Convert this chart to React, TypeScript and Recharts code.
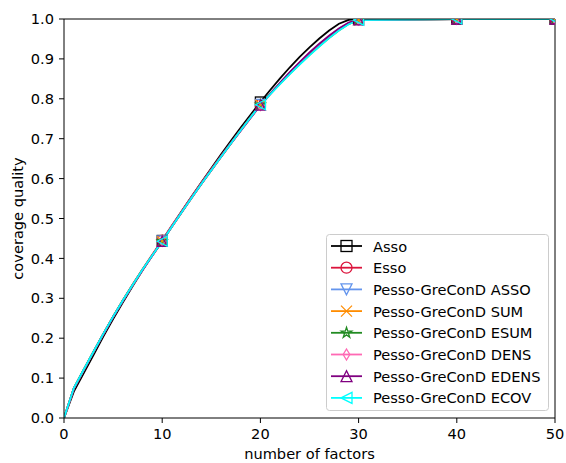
import React from 'react';
import {
  LineChart,
  Line,
  XAxis,
  YAxis,
  ReferenceLine,
  Legend,
} from 'recharts';

// number of factors (x) — the curves are flat at full coverage beyond 30
const factors = [
  0, 1, 2, 3, 4, 5, 6, 7, 8, 9, 10, 11, 12, 13, 14, 15, 16, 17, 18, 19, 20,
  21, 22, 23, 24, 25, 26, 27, 28, 29, 30, 40, 50,
];

const asso = [
  0, 0.066, 0.112, 0.158, 0.204, 0.248, 0.29, 0.331, 0.37, 0.408, 0.445,
  0.482, 0.519, 0.555, 0.591, 0.626, 0.661, 0.695, 0.728, 0.76, 0.792,
  0.822, 0.851, 0.879, 0.905, 0.929, 0.951, 0.971, 0.988, 0.998, 1.0, 1.0, 1.0,
];
const esso = [
  0, 0.073, 0.119, 0.165, 0.21, 0.254, 0.295, 0.335, 0.373, 0.41, 0.446,
  0.483, 0.519, 0.555, 0.59, 0.624, 0.657, 0.69, 0.722, 0.754, 0.786,
  0.813, 0.839, 0.865, 0.889, 0.912, 0.934, 0.955, 0.974, 0.989, 0.998, 1.0, 1.0,
];
const pgAsso = [
  0, 0.074, 0.12, 0.166, 0.211, 0.254, 0.295, 0.334, 0.372, 0.408, 0.444,
  0.481, 0.517, 0.553, 0.588, 0.622, 0.656, 0.689, 0.722, 0.754, 0.786,
  0.813, 0.84, 0.866, 0.89, 0.914, 0.936, 0.957, 0.975, 0.99, 0.998, 1.0, 1.0,
];
const pgSum = [
  0, 0.075, 0.121, 0.166, 0.211, 0.254, 0.295, 0.334, 0.372, 0.408, 0.443,
  0.48, 0.516, 0.552, 0.587, 0.621, 0.655, 0.688, 0.721, 0.753, 0.785,
  0.812, 0.838, 0.863, 0.887, 0.91, 0.932, 0.953, 0.972, 0.988, 0.997, 1.0, 1.0,
];
const pgEsum = [
  0, 0.075, 0.121, 0.166, 0.211, 0.254, 0.295, 0.334, 0.372, 0.408, 0.443,
  0.48, 0.516, 0.552, 0.587, 0.621, 0.655, 0.688, 0.721, 0.753, 0.785,
  0.812, 0.838, 0.863, 0.887, 0.91, 0.932, 0.953, 0.972, 0.988, 0.997, 1.0, 1.0,
];
const pgDens = [
  0, 0.074, 0.12, 0.165, 0.21, 0.253, 0.294, 0.333, 0.371, 0.407, 0.443,
  0.48, 0.516, 0.552, 0.587, 0.621, 0.655, 0.688, 0.72, 0.752, 0.783,
  0.811, 0.839, 0.866, 0.891, 0.915, 0.937, 0.958, 0.976, 0.991, 0.998, 1.0, 1.0,
];
const pgEdens = [
  0, 0.074, 0.12, 0.165, 0.21, 0.253, 0.294, 0.333, 0.371, 0.407, 0.443,
  0.48, 0.516, 0.552, 0.587, 0.621, 0.655, 0.688, 0.72, 0.752, 0.784,
  0.812, 0.84, 0.867, 0.892, 0.916, 0.938, 0.958, 0.976, 0.991, 0.998, 1.0, 1.0,
];
const pgEcov = [
  0, 0.075, 0.121, 0.166, 0.211, 0.254, 0.295, 0.334, 0.372, 0.408, 0.443,
  0.48, 0.516, 0.552, 0.587, 0.621, 0.655, 0.688, 0.721, 0.753, 0.785,
  0.811, 0.837, 0.862, 0.886, 0.909, 0.931, 0.952, 0.971, 0.987, 0.997, 1.0, 1.0,
];

const xTicks = [0, 10, 20, 30, 40, 50];
const yTicks = [0, 0.1, 0.2, 0.3, 0.4, 0.5, 0.6, 0.7, 0.8, 0.9, 1.0];

type Shape = 'square' | 'circle' | 'tridown' | 'x' | 'star' | 'diamond' | 'triup' | 'trileft';

const seriesDefs: { key: string; name: string; color: string; shape: Shape; values: number[] }[] = [
  { key: 'asso', name: 'Asso', color: '#000000', shape: 'square', values: asso },
  { key: 'esso', name: 'Esso', color: '#dc143c', shape: 'circle', values: esso },
  { key: 'pgAsso', name: 'Pesso-GreConD ASSO', color: '#6495ed', shape: 'tridown', values: pgAsso },
  { key: 'pgSum', name: 'Pesso-GreConD SUM', color: '#ff8c00', shape: 'x', values: pgSum },
  { key: 'pgEsum', name: 'Pesso-GreConD ESUM', color: '#228b22', shape: 'star', values: pgEsum },
  { key: 'pgDens', name: 'Pesso-GreConD DENS', color: '#ff69b4', shape: 'diamond', values: pgDens },
  { key: 'pgEdens', name: 'Pesso-GreConD EDENS', color: '#800080', shape: 'triup', values: pgEdens },
  { key: 'pgEcov', name: 'Pesso-GreConD ECOV', color: '#00ffff', shape: 'trileft', values: pgEcov },
];

const data = factors.map((f, i) => {
  const row: Record<string, number> = { f };
  seriesDefs.forEach((s) => {
    row[s.key] = s.values[i];
  });
  return row;
});

const FONT = 'DejaVu Sans, sans-serif';
const FONT_SIZE = 14.6;
const MARKER = 11;

function Marker({ shape, color, cx, cy, size = MARKER }: { shape: Shape; color: string; cx: number; cy: number; size?: number }) {
  const h = size / 2;
  const common = { fill: 'none', stroke: color, strokeWidth: 1.3 };
  switch (shape) {
    case 'square':
      return <rect x={cx - h} y={cy - h} width={size} height={size} {...common} />;
    case 'circle':
      return <circle cx={cx} cy={cy} r={h} {...common} />;
    case 'tridown':
      return <polygon points={`${cx},${cy + h} ${cx - h},${cy - h} ${cx + h},${cy - h}`} {...common} />;
    case 'triup':
      return <polygon points={`${cx},${cy - h} ${cx - h},${cy + h} ${cx + h},${cy + h}`} {...common} />;
    case 'trileft':
      return <polygon points={`${cx - h},${cy} ${cx + h},${cy - h} ${cx + h},${cy + h}`} {...common} />;
    case 'x':
      return (
        <g {...common}>
          <line x1={cx - h} y1={cy - h} x2={cx + h} y2={cy + h} />
          <line x1={cx - h} y1={cy + h} x2={cx + h} y2={cy - h} />
        </g>
      );
    case 'diamond': {
      const w = h * 0.6;
      return <polygon points={`${cx},${cy - h} ${cx + w},${cy} ${cx},${cy + h} ${cx - w},${cy}`} {...common} />;
    }
    case 'star': {
      const pts: string[] = [];
      for (let k = 0; k < 10; k++) {
        const r = k % 2 === 0 ? h : h * 0.381966;
        const a = -Math.PI / 2 + (k * Math.PI) / 5;
        pts.push(`${cx + r * Math.cos(a)},${cy + r * Math.sin(a)}`);
      }
      return <polygon points={pts.join(' ')} {...common} />;
    }
    default:
      return null;
  }
}

// markers every 10 factors, skipping the origin
const makeDot = (shape: Shape, color: string) => (props: any) => {
  const { cx, cy, payload, index } = props;
  if (!payload || payload.f === 0 || payload.f % 10 !== 0) return <g key={`d-${index}`} />;
  return (
    <g key={`d-${index}`}>
      <Marker shape={shape} color={color} cx={cx} cy={cy} size={10} />
    </g>
  );
};

const LegendBox = () => {
  const w = 223;
  const hgt = 177;
  const step = 21.7;
  return (
    <svg width={w} height={hgt} style={{ display: 'block' }}>
      <rect x={0.5} y={0.5} width={w - 1} height={hgt - 1} rx={3} ry={3} fill="#ffffff" fillOpacity={0.8} stroke="#cccccc" strokeWidth={1} />
      {seriesDefs.map((s, i) => {
        const y = 12 + i * step;
        return (
          <g key={s.key}>
            <line x1={5} y1={y} x2={36} y2={y} stroke={s.color} strokeWidth={1.8} />
            <Marker shape={s.shape} color={s.color} cx={20.5} cy={y} />
            <text x={47} y={y} dominantBaseline="central" fontFamily={FONT} fontSize={FONT_SIZE} fill="#000">
              {s.name}
            </text>
          </g>
        );
      })}
    </svg>
  );
};

const YLabel = () => (
  <text x={23} y={218.5} transform="rotate(-90 23 218.5)" textAnchor="middle" fontFamily={FONT} fontSize={FONT_SIZE} fill="#000">
    coverage quality
  </text>
);

export default function App() {
  return (
    <div style={{ position: 'absolute', left: 0, top: 0, background: '#fff' }}>
      <LineChart
        width={566}
        height={463}
        data={data}
        margin={{ top: 19, right: 11, bottom: 0, left: 0 }}
      >
        <XAxis
          dataKey="f"
          type="number"
          domain={[0, 50]}
          ticks={xTicks}
          height={45}
          allowDataOverflow
          stroke="#000"
          tickSize={5}
          tickMargin={6}
          tick={{ fill: '#000', fontFamily: FONT, fontSize: FONT_SIZE }}
          label={{ value: 'number of factors', position: 'insideBottom', offset: 4, fill: '#000', fontFamily: FONT, fontSize: FONT_SIZE }}
        />
        <YAxis
          type="number"
          domain={[0, 1]}
          ticks={yTicks}
          width={64}
          allowDataOverflow
          stroke="#000"
          tickSize={5}
          tickMargin={5}
          tickFormatter={(v: number) => v.toFixed(1)}
          tick={{ fill: '#000', fontFamily: FONT, fontSize: FONT_SIZE }}
          label={{ content: () => <YLabel /> }}
        />
        {seriesDefs.map((s) => (
          <Line
            key={s.key}
            dataKey={s.key}
            name={s.name}
            type="linear"
            stroke={s.color}
            strokeWidth={1.8}
            dot={makeDot(s.shape, s.color)}
            activeDot={false}
            isAnimationActive={false}
          />
        ))}
        <ReferenceLine y={1} stroke="#000" strokeWidth={1} />
        <ReferenceLine x={50} stroke="#000" strokeWidth={1} />
        <Legend
          layout="horizontal"
          verticalAlign="middle"
          align="center"
          content={() => <LegendBox />}
          wrapperStyle={{ position: 'absolute', left: 326, top: 234, width: 223, height: 177 }}
        />
      </LineChart>
    </div>
  );
}
